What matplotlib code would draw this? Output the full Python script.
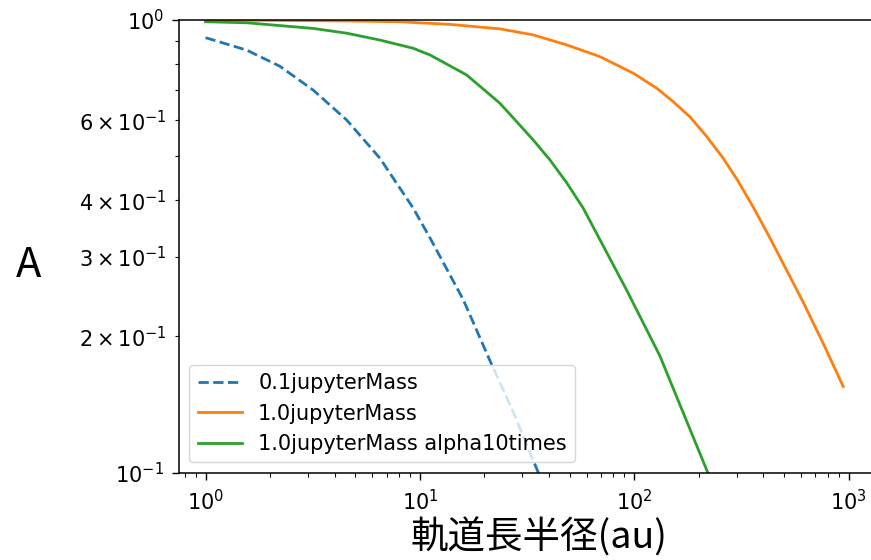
import matplotlib
matplotlib.use('Agg')
import matplotlib.pyplot as plt

# values (x: semi-major axis in au, y: A)
blue_x = [1.0, 1.556, 2.226, 3.18, 4.56, 6.51, 9.31, 11.15, 15.94, 21.2, 27.1, 36.0]
blue_y = [0.914, 0.858, 0.790, 0.700, 0.601, 0.495, 0.384, 0.330, 0.241, 0.177, 0.137, 0.099]

orange_x = [1.0, 2.2, 4.6, 8.07, 13.8, 23.6, 33.8, 48.4, 69.2, 98.9, 127.2, 152.0, 181.9,
            217.6, 260.0, 302.0, 359.0, 429.6, 514.0, 614.0, 761.0, 943.6]
orange_y = [0.999, 0.998, 0.995, 0.991, 0.978, 0.956, 0.927, 0.881, 0.830, 0.763, 0.707, 0.660, 0.611,
            0.553, 0.495, 0.444, 0.386, 0.330, 0.280, 0.238, 0.193, 0.155]

green_x = [1.0, 1.556, 3.18, 4.56, 6.51, 9.31, 11.15, 16.53, 23.6, 28.3, 33.8, 40.4, 48.4,
           57.8, 92.2, 131.8, 221.3]
green_y = [0.991, 0.986, 0.958, 0.935, 0.903, 0.866, 0.837, 0.756, 0.655, 0.596, 0.543, 0.491, 0.437,
           0.384, 0.253, 0.181, 0.0995]

labels = ['0.1jupyterMass', '1.0jupyterMass', '1.0jupyterMass alpha10times']
cjk = ['Noto Sans CJK JP', 'DejaVu Sans']

fig = plt.figure(figsize=(8.71, 5.6), dpi=100)
# axes run past the right edge of the picture, as in the reference crop
ax = fig.add_axes([179 / 871, 1 - 472.7 / 560, 720 / 871, 452.7 / 560])

ax.plot(blue_x, blue_y, '--', color='#1f77b4', lw=2, label=labels[0])
ax.plot(orange_x, orange_y, color='#ff7f0e', lw=2, label=labels[1])
ax.plot(green_x, green_y, color='#2ca02c', lw=2, label=labels[2])

ax.set_xscale('log')
ax.set_yscale('log')
ax.set_xlim(0.752, 1718)
ax.set_ylim(0.1, 1.0)
ax.spines['right'].set_visible(False)

ax.tick_params(which='both', labelsize=15)
ax.tick_params(which='major', length=5, width=1)
ax.tick_params(which='minor', length=3, width=0.8)
ax.tick_params(axis='x', which='both', pad=7)
ax.tick_params(axis='y', which='both', pad=6)
for s in ax.spines.values():
    s.set_linewidth(1.1)

ax.set_xlabel('軌道長半径(au)', fontsize=27, family=cjk, labelpad=3)
ax.set_ylabel('A', fontsize=30, family=cjk, rotation=0, ha='center', va='center')
ax.yaxis.set_label_coords(-0.209, 0.4566)

ax.legend(loc='lower left', fontsize=15, handlelength=2.1)

fig.savefig('out.png', dpi=100)
